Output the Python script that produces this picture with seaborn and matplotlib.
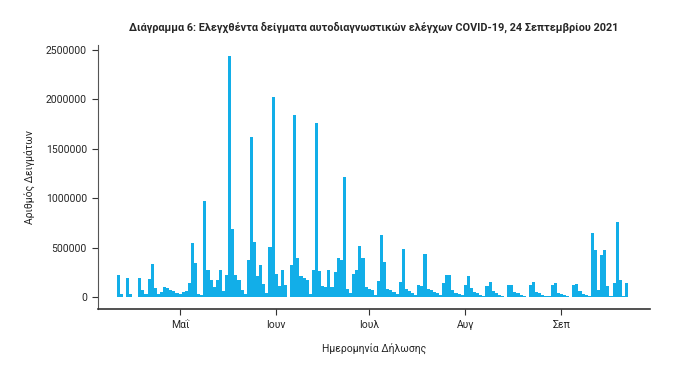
import numpy as np
import pandas as pd
import matplotlib.pyplot as plt
import seaborn as sns

# Daily counts of self-test samples (thousands), 11 Apr - 22 Sep 2021
april = [226, 27, 0, 193, 27, 0, 0, 196, 68, 34, 180, 338, 95, 34, 50, 100, 95, 75, 60, 40]
may = [34, 50, 60, 140, 550, 348, 34, 17, 970, 277, 170, 100, 169, 277, 60, 220, 2440, 690,
       226, 169, 75, 27, 372, 1620, 557, 210, 328, 128, 40, 507, 2020]
june = [236, 108, 270, 118, 0, 321, 1840, 399, 210, 196, 176, 35, 270, 1760, 264, 108, 101,
        277, 101, 253, 399, 372, 1220, 84, 40, 236, 270, 513, 399, 101]
july = [84, 68, 17, 162, 632, 355, 84, 75, 50, 27, 152, 490, 84, 60, 40, 25, 125, 108, 440,
        85, 70, 50, 37, 20, 140, 225, 228, 75, 45, 30, 17]
august = [125, 215, 90, 55, 37, 20, 10, 110, 152, 65, 37, 20, 10, 5, 118, 120, 54, 37, 20, 10,
          5, 118, 150, 54, 37, 20, 10, 8, 118, 142, 44]
september = [27, 17, 10, 5, 118, 135, 60, 35, 20, 10, 645, 475, 70, 425, 480, 110, 15, 140,
             762, 178, 10, 142]

month_labels = ["Μαΐ", "Ιουν", "Ιουλ", "Αυγ", "Σεπ"]
yticks = [0, 500000, 1000000, 1500000, 2000000, 2500000]

values = np.array(april + may + june + july + august + september) * 1000
dates = pd.date_range("2021-04-11", periods=len(values), freq="D")
df = pd.DataFrame({"day": dates.strftime("%Y-%m-%d"), "samples": values})

sns.set_style("white")
plt.rcParams["font.family"] = ["Roboto", "DejaVu Sans"]

fig = plt.figure(figsize=(6.82, 3.87), dpi=100)
ax = fig.add_axes([0.1437, 0.2016, 0.809, 0.682])

sns.barplot(data=df, x="day", y="samples", color="#12AEE8", saturation=1,
            width=1, linewidth=0, ax=ax)

# month ticks at the first day of each month
month_starts = [i for i, d in enumerate(dates) if d.day == 1]
ax.set_xticks(month_starts)
ax.set_xticklabels(month_labels, fontsize=7.5)
ax.set_xlim(-6.5, 171.5)

ax.set_ylim(-120000, 2550000)
ax.set_yticks(yticks)
ax.set_yticklabels([str(v) for v in yticks], fontsize=7.5)

ax.set_xlabel("Ημερομηνία Δήλωσης", fontsize=7.5, labelpad=9)
ax.set_ylabel("Αριθμός Δειγμάτων", fontsize=7.5, labelpad=7)

for s in ["top", "right"]:
    ax.spines[s].set_visible(False)
ax.spines["left"].set_color("#555555")
ax.spines["bottom"].set_color("#333333")
ax.spines["bottom"].set_linewidth(1.2)
ax.tick_params(axis="both", direction="out", length=4, width=0.8, color="#333333",
               left=True, bottom=True, pad=4)

fig.text(0.548, 0.93, "Διάγραμμα 6: Ελεγχθέντα δείγματα αυτοδιαγνωστικών ελέγχων COVID-19, 24 Σεπτεμβρίου 2021",
         ha="center", va="center", fontsize=7.8, fontweight="bold")

fig.savefig("out.png", dpi=100)
